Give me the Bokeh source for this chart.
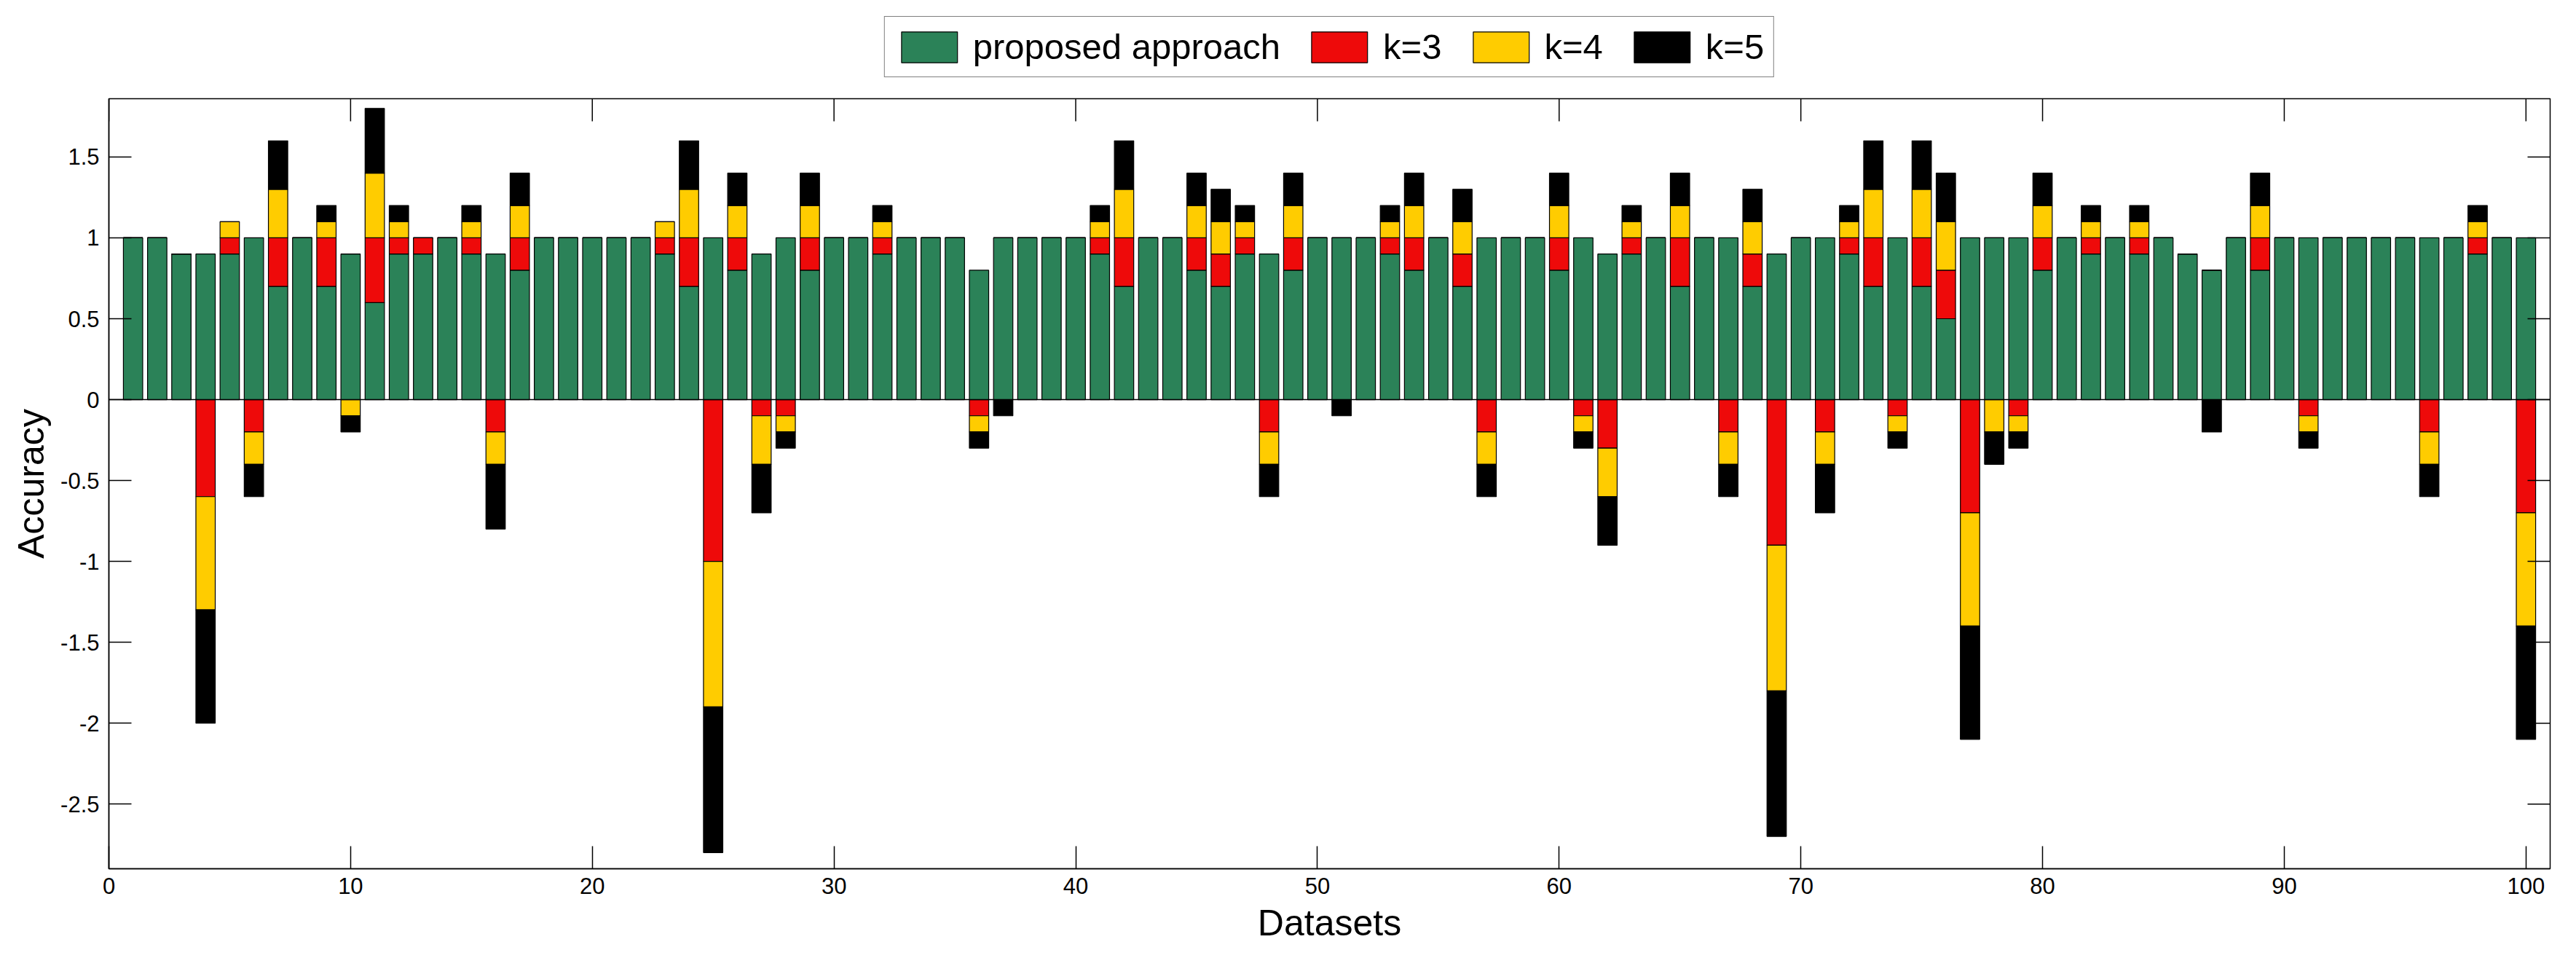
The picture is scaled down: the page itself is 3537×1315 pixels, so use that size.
import numpy as np
from bokeh.plotting import figure
from bokeh.layouts import column
from bokeh.models import (Range1d, FixedTicker, Legend, LegendItem,
                          Span, ColumnDataSource)
from bokeh.embed import file_html
from bokeh.resources import INLINE

# ---------------- data ----------------
datasets = list(range(1, 101))

proposed = [1.0, 1.0, 0.9, 0.9, 0.9, 1.0, 0.7, 1.0, 0.7, 0.9,
            0.6, 0.9, 0.9, 1.0, 0.9, 0.9, 0.8, 1.0, 1.0, 1.0,
            1.0, 1.0, 0.9, 0.7, 1.0, 0.8, 0.9, 1.0, 0.8, 1.0,
            1.0, 0.9, 1.0, 1.0, 1.0, 0.8, 1.0, 1.0, 1.0, 1.0,
            0.9, 0.7, 1.0, 1.0, 0.8, 0.7, 0.9, 0.9, 0.8, 1.0,
            1.0, 1.0, 0.9, 0.8, 1.0, 0.7, 1.0, 1.0, 1.0, 0.8,
            1.0, 0.9, 0.9, 1.0, 0.7, 1.0, 1.0, 0.7, 0.9, 1.0,
            1.0, 0.9, 0.7, 1.0, 0.7, 0.5, 1.0, 1.0, 1.0, 0.8,
            1.0, 0.9, 1.0, 0.9, 1.0, 0.9, 0.8, 1.0, 0.8, 1.0,
            1.0, 1.0, 1.0, 1.0, 1.0, 1.0, 1.0, 0.9, 1.0, 1.0]

k3 = [0, 0, 0, -0.6, 0.1, -0.2, 0.3, 0, 0.3, 0,
      0.4, 0.1, 0.1, 0, 0.1, -0.2, 0.2, 0, 0, 0,
      0, 0, 0.1, 0.3, -1.0, 0.2, -0.1, -0.1, 0.2, 0,
      0, 0.1, 0, 0, 0, -0.1, 0, 0, 0, 0,
      0.1, 0.3, 0, 0, 0.2, 0.2, 0.1, -0.2, 0.2, 0,
      0, 0, 0.1, 0.2, 0, 0.2, -0.2, 0, 0, 0.2,
      -0.1, -0.3, 0.1, 0, 0.3, 0, -0.2, 0.2, -0.9, 0,
      -0.2, 0.1, 0.3, -0.1, 0.3, 0.3, -0.7, 0, -0.1, 0.2,
      0, 0.1, 0, 0.1, 0, 0, 0, 0, 0.2, 0,
      -0.1, 0, 0, 0, 0, -0.2, 0, 0.1, 0, -0.7]

k4 = [0, 0, 0, -0.7, 0.1, -0.2, 0.3, 0, 0.1, -0.1,
      0.4, 0.1, 0, 0, 0.1, -0.2, 0.2, 0, 0, 0,
      0, 0, 0.1, 0.3, -0.9, 0.2, -0.3, -0.1, 0.2, 0,
      0, 0.1, 0, 0, 0, -0.1, 0, 0, 0, 0,
      0.1, 0.3, 0, 0, 0.2, 0.2, 0.1, -0.2, 0.2, 0,
      0, 0, 0.1, 0.2, 0, 0.2, -0.2, 0, 0, 0.2,
      -0.1, -0.3, 0.1, 0, 0.2, 0, -0.2, 0.2, -0.9, 0,
      -0.2, 0.1, 0.3, -0.1, 0.3, 0.3, -0.7, -0.2, -0.1, 0.2,
      0, 0.1, 0, 0.1, 0, 0, 0, 0, 0.2, 0,
      -0.1, 0, 0, 0, 0, -0.2, 0, 0.1, 0, -0.7]

k5 = [0, 0, 0, -0.7, 0, -0.2, 0.3, 0, 0.1, -0.1,
      0.4, 0.1, 0, 0, 0.1, -0.4, 0.2, 0, 0, 0,
      0, 0, 0, 0.3, -0.9, 0.2, -0.3, -0.1, 0.2, 0,
      0, 0.1, 0, 0, 0, -0.1, -0.1, 0, 0, 0,
      0.1, 0.3, 0, 0, 0.2, 0.2, 0.1, -0.2, 0.2, 0,
      -0.1, 0, 0.1, 0.2, 0, 0.2, -0.2, 0, 0, 0.2,
      -0.1, -0.3, 0.1, 0, 0.2, 0, -0.2, 0.2, -0.9, 0,
      -0.3, 0.1, 0.3, -0.1, 0.3, 0.3, -0.7, -0.2, -0.1, 0.2,
      0, 0.1, 0, 0.1, 0, 0, -0.2, 0, 0.2, 0,
      -0.1, 0, 0, 0, 0, -0.2, 0, 0.1, 0, -0.7]

series_labels = ["proposed approach", "k=3", "k=4", "k=5"]
series_colors = ["#2B8258", "#EE0A0A", "#FFCC00", "#000000"]
x_ticks = [0, 10, 20, 30, 40, 50, 60, 70, 80, 90, 100]
y_ticks = [-2.5, -2, -1.5, -1, -0.5, 0, 0.5, 1, 1.5]
x_label = "Datasets"
y_label = "Accuracy"
x_lim = (0, 101)
y_lim = (-2.9, 1.86)

FONT = "Liberation Sans"
TICK_LEN = 31
W = 3521
LEG_H = 125
MAIN_H = 1182

# ------------- stacking (MATLAB style: positives up, negatives down) -------------
series = [proposed, k3, k4, k5]
pos_base = np.zeros(len(datasets))
neg_base = np.zeros(len(datasets))
sources = []
for vals in series:
    v = np.asarray(vals, dtype=float)
    bottom = np.where(v >= 0, pos_base, neg_base)
    top = bottom + v
    pos_base = np.where(v >= 0, top, pos_base)
    neg_base = np.where(v < 0, top, neg_base)
    sources.append(ColumnDataSource(dict(x=datasets, bottom=bottom, top=top)))

# ---------------- main figure ----------------
p = figure(width=W, height=MAIN_H,
           x_range=Range1d(*x_lim), y_range=Range1d(*y_lim),
           output_backend="svg", toolbar_location=None, title=None,
           min_border_left=149, min_border_right=20,
           min_border_top=10, min_border_bottom=MAIN_H - 1067)
p.xgrid.visible = False
p.ygrid.visible = False
p.outline_line_color = "black"
p.outline_line_width = 1.5
p.background_fill_color = "white"
p.border_fill_color = "white"

renderers = []
for src, col in zip(sources, series_colors):
    r = p.vbar(x="x", width=0.8, bottom="bottom", top="top", source=src,
               fill_color=col, line_color="black", line_width=1.2)
    renderers.append(r)

p.add_layout(Span(location=0, dimension="width", line_color="black", line_width=1.5))

# mirrored tick marks on top and right edges (MATLAB "box on")
p.ray(x=x_ticks, y=[y_lim[1]] * len(x_ticks), length=TICK_LEN, length_units="screen",
      angle=-np.pi / 2, line_color="black", line_width=1.5)
p.ray(x=[x_lim[1]] * len(y_ticks), y=y_ticks, length=TICK_LEN, length_units="screen",
      angle=np.pi, line_color="black", line_width=1.5)

# axes
xa = p.xaxis[0]
ya = p.yaxis[0]
xa.ticker = FixedTicker(ticks=x_ticks)
ya.ticker = FixedTicker(ticks=y_ticks)
xa.major_label_overrides = {t: f"{t:g}" for t in x_ticks}
ya.major_label_overrides = {t: f"{t:g}" for t in y_ticks}
xa.axis_label = x_label
ya.axis_label = y_label
for ax in (xa, ya):
    ax.major_tick_in = TICK_LEN
    ax.major_tick_out = 0
    ax.minor_tick_in = 0
    ax.minor_tick_out = 0
    ax.axis_line_color = "black"
    ax.axis_line_width = 1.5
    ax.major_tick_line_width = 1.5
    ax.major_label_text_font = FONT
    ax.major_label_text_font_size = "31px"
    ax.major_label_text_color = "black"
    ax.axis_label_text_font = FONT
    ax.axis_label_text_font_size = "50px"
    ax.axis_label_text_font_style = "normal"
    ax.axis_label_text_color = "black"
ya.major_label_standoff = 13
ya.axis_label_standoff = 9
xa.major_label_standoff = 12
xa.axis_label_standoff = 9

# ---------------- legend strip above the axes ----------------
lf = figure(width=W, height=LEG_H, output_backend="svg", toolbar_location=None,
            title=None, x_axis_type=None, y_axis_type=None,
            min_border_left=149, min_border_right=20, min_border_top=0, min_border_bottom=0)
lf.xgrid.visible = False
lf.ygrid.visible = False
lf.outline_line_color = None
lf.background_fill_color = "white"
lf.border_fill_color = "white"
# hidden copies of the series: they only supply the legend swatches
leg_renderers = [lf.vbar(x="x", width=0.8, bottom="bottom", top="top", source=src,
                         fill_color=col, line_color="black", line_width=1.2, visible=False)
                 for src, col in zip(sources, series_colors)]

legend = Legend(items=[LegendItem(label=lab, renderers=[r])
                       for lab, r in zip(series_labels, leg_renderers)],
                orientation="horizontal", location="top_center",
                glyph_width=96, glyph_height=53, label_standoff=12,
                spacing=33, padding=13, margin=22,
                label_text_font=FONT, label_text_font_size="49px",
                label_text_color="black",
                inactive_fill_alpha=0.0,
                border_line_color="black", border_line_width=1.5,
                background_fill_color="white", background_fill_alpha=1.0)
lf.add_layout(legend, "center")

layout = column(lf, p, spacing=0)
open("out.html", "w").write(file_html(layout, INLINE))
